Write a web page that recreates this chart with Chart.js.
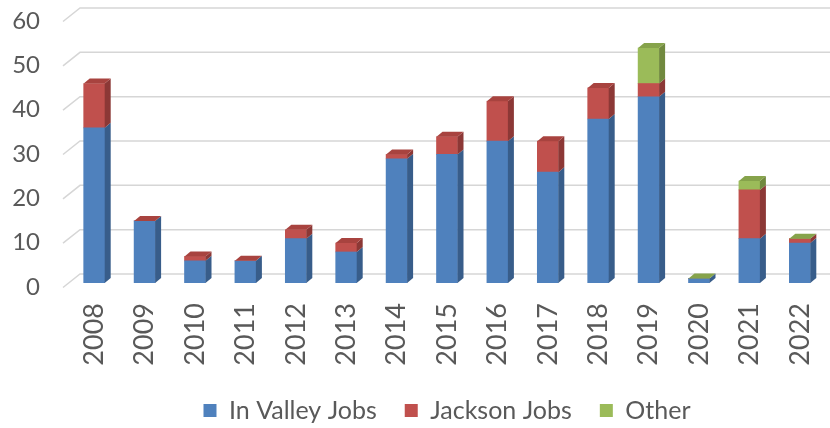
<!DOCTYPE html>
<html>
<head>
<meta charset="utf-8">
<script src="https://cdn.jsdelivr.net/npm/chart.js@4.4.1/dist/chart.umd.min.js"></script>
<style>
  html, body { margin: 0; background: #fff; }
  #wrap { width: 830px; height: 428px; }
</style>
</head>
<body>
<div id="wrap"><canvas id="jobsChart"></canvas></div>
<script>
var years = ["2008", "2009", "2010", "2011", "2012", "2013", "2014", "2015",
             "2016", "2017", "2018", "2019", "2020", "2021", "2022"];
var inValleyJobs = [35, 14, 5, 5, 10, 7, 28, 29, 32, 25, 37, 42, 1, 10, 9];
var jacksonJobs  = [10, 0, 1, 0, 2, 2, 1, 4, 9, 7, 7, 3, 0, 11, 1];
// blank cells stay null, so no cap is drawn for them
var otherJobs    = [null, null, null, null, null, null, null, null,
                    null, null, null, 8, 0, 2, 0];
var yTicks = [0, 10, 20, 30, 40, 50, 60];

var textColor = "#595959";
var fontFamily = "Lato, 'Open Sans', sans-serif";

// face, side and top shades for each series
var shades = [
    { face: "#4f81bd", side: "#385d8a", top: "#4572a7" },
    { face: "#c0504d", side: "#8c3836", top: "#a8433f" },
    { face: "#9bbb59", side: "#71893f", top: "#86a34b" },
];

var depthX = 6;
var depthY = 5;

// back wall grid with the slanted floor lines on the left
var wallGrid = {
    id: "wallGrid",
    beforeDatasetsDraw: function (chart) {
        var ctx = chart.ctx;
        var y = chart.scales.y;
        var left = chart.chartArea.left;
        ctx.save();
        ctx.strokeStyle = "#d6d6d6";
        ctx.lineWidth = 1.5;
        yTicks.forEach(function (v) {
            var py = y.getPixelForValue(v);
            ctx.beginPath();
            ctx.moveTo(left - 6, py + 4.5);
            ctx.lineTo(left + 11, py - 9);
            ctx.lineTo(chart.width, py - 9);
            ctx.stroke();
        });
        ctx.restore();
    },
};

// side and top faces so the columns look like boxes
var boxFaces = {
    id: "boxFaces",
    afterDatasetsDraw: function (chart) {
        var ctx = chart.ctx;
        ctx.save();
        for (var i = 0; i < chart.data.labels.length; i++) {
            var topBar = null;
            var topShade = null;
            chart.data.datasets.forEach(function (ds, d) {
                if (ds.data[i] === null) return;
                var bar = chart.getDatasetMeta(d).data[i];
                var right = bar.x + bar.width / 2;
                var hi = Math.min(bar.y, bar.base);
                var lo = Math.max(bar.y, bar.base);
                ctx.fillStyle = shades[d].side;
                ctx.beginPath();
                ctx.moveTo(right, lo);
                ctx.lineTo(right, hi);
                ctx.lineTo(right + depthX, hi - depthY);
                ctx.lineTo(right + depthX, lo - depthY);
                ctx.closePath();
                ctx.fill();
                topBar = bar;
                topShade = shades[d];
            });
            if (topBar) {
                var l = topBar.x - topBar.width / 2;
                var r = topBar.x + topBar.width / 2;
                var t = Math.min(topBar.y, topBar.base);
                ctx.fillStyle = topShade.top;
                ctx.beginPath();
                ctx.moveTo(l, t);
                ctx.lineTo(l + depthX, t - depthY);
                ctx.lineTo(r + depthX, t - depthY);
                ctx.lineTo(r, t);
                ctx.closePath();
                ctx.fill();
            }
        }
        ctx.restore();
    },
};

function noPadding(scale) {
    scale.paddingTop = 0;
    scale.paddingBottom = 0;
    scale.paddingLeft = 0;
    scale.paddingRight = 0;
}

new Chart(document.getElementById("jobsChart"), {
    type: "bar",
    data: {
        labels: years,
        datasets: [
            { label: "In Valley Jobs", data: inValleyJobs, backgroundColor: shades[0].face },
            { label: "Jackson Jobs", data: jacksonJobs, backgroundColor: shades[1].face },
            { label: "Other", data: otherJobs, backgroundColor: shades[2].face },
        ],
    },
    options: {
        responsive: true,
        maintainAspectRatio: false,
        animation: false,
        datasets: {
            bar: { barThickness: 21, borderWidth: 0 },
        },
        layout: { padding: { top: 17, right: 5, left: 0, bottom: -5 } },
        plugins: {
            tooltip: { enabled: false },
            legend: {
                position: "bottom",
                fullSize: false,
                labels: {
                    color: textColor,
                    font: { family: fontFamily, size: 25 },
                    boxWidth: 13,
                    boxHeight: 13,
                    padding: 28,
                },
            },
        },
        scales: {
            x: {
                stacked: true,
                grid: { display: false, drawTicks: false },
                border: { display: false },
                afterFit: function (scale) {
                    scale.height = 87;
                    noPadding(scale);
                },
                ticks: {
                    color: textColor,
                    font: { family: fontFamily, size: 27 },
                    minRotation: 90,
                    maxRotation: 90,
                    padding: 20,
                },
            },
            y: {
                stacked: true,
                min: 0,
                max: 60,
                grid: { display: false, drawTicks: false },
                border: { display: false },
                afterFit: function (scale) {
                    scale.width = 69;
                    noPadding(scale);
                },
                afterBuildTicks: function (scale) {
                    scale.ticks = yTicks.map(function (v) { return { value: v }; });
                },
                ticks: {
                    color: textColor,
                    font: { family: fontFamily, size: 24 },
                    padding: 29,
                    labelOffset: 4,
                },
            },
        },
    },
    plugins: [wallGrid, boxFaces],
});
</script>
</body>
</html>
